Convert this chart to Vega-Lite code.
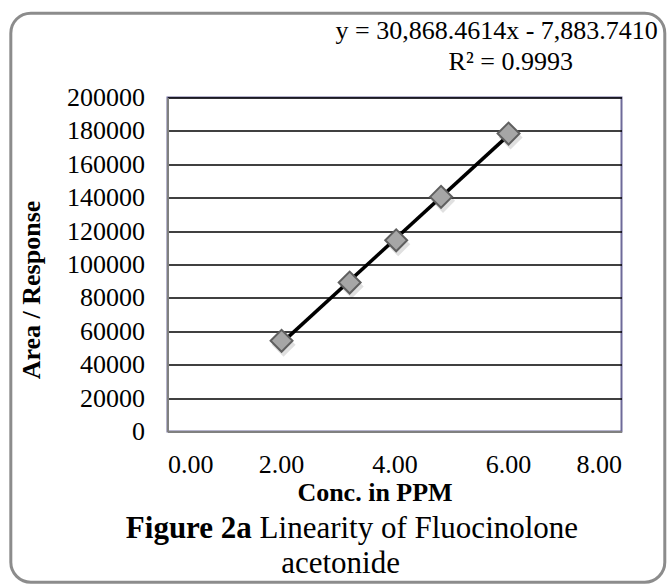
{
  "$schema": "https://vega.github.io/schema/vega-lite/v6.json",
  "width": 454,
  "height": 334,
  "padding": {"left": 8.5, "top": 11.5, "right": 0, "bottom": 0},
  "background": "white",
  "config": {
    "font": "Liberation Serif",
    "view": {"stroke": "#6e6a99", "strokeWidth": 2},
    "axisX": {"labelFontSize": 26, "labelColor": "black", "labelFont": "Liberation Serif", "titleFontSize": 26, "titleFontWeight": "bold", "titleColor": "black", "titleFont": "Liberation Serif", "grid": false, "ticks": false, "tickSize": 0, "domainColor": "#808080", "domainWidth": 2, "labelPadding": 20, "zindex": 1, "labelOverlap": false},
    "axisY": {"labelFontSize": 26, "labelColor": "black", "labelFont": "Liberation Serif", "titleFontSize": 26, "titleFontWeight": "bold", "titleColor": "black", "titleFont": "Liberation Serif", "grid": true, "gridColor": "black", "gridWidth": 1.5, "gridOpacity": 1, "ticks": false, "tickSize": 0, "domainColor": "#808080", "domainWidth": 2, "labelPadding": 23, "labelOverlap": false}
  },
  "datasets": {
    "points": [
      {"conc": 2.01, "area": 54300},
      {"conc": 3.21, "area": 89200},
      {"conc": 4.03, "area": 114500},
      {"conc": 4.82, "area": 140500},
      {"conc": 6.01, "area": 178400}
    ],
    "single": [{"label": "annotation"}]
  },
  "data": {"name": "points"},
  "layer": [
    {
      "data": {"name": "single"},
      "mark": {"type": "rect", "fill": "transparent", "stroke": "#8c8c8c", "strokeWidth": 3, "cornerRadius": 20},
      "encoding": {
        "x": {"datum": -2.761, "type": "quantitative", "scale": {"domain": [0, 8], "nice": false, "zero": false}, "title": "Conc. in PPM"},
        "x2": {"datum": 8.763},
        "y": {"datum": 250479, "type": "quantitative", "scale": {"domain": [0, 200000], "nice": false, "zero": false}, "title": "Area / Response"},
        "y2": {"datum": -90240}
      }
    },
    {
      "transform": [{"regression": "area", "on": "conc"}],
      "mark": {"type": "line", "color": "black", "strokeWidth": 3.5},
      "encoding": {
        "x": {"field": "conc", "type": "quantitative", "scale": {"domain": [0, 8], "nice": false, "zero": false}, "title": "Conc. in PPM"},
        "y": {"field": "area", "type": "quantitative", "scale": {"domain": [0, 200000], "nice": false, "zero": false}, "title": "Area / Response"}
      }
    },
    {
      "mark": {"type": "point", "shape": "diamond", "filled": true, "size": 580, "color": "black", "opacity": 0.12, "xOffset": 2, "yOffset": 4},
      "encoding": {
        "x": {"field": "conc", "type": "quantitative", "scale": {"domain": [0, 8], "nice": false, "zero": false}, "title": "Conc. in PPM"},
        "y": {"field": "area", "type": "quantitative", "scale": {"domain": [0, 200000], "nice": false, "zero": false}, "title": "Area / Response"}
      }
    },
    {
      "mark": {"type": "point", "shape": "diamond", "filled": true, "size": 480, "fill": "#a6a6a6", "stroke": "#5f5f5f", "strokeWidth": 2, "opacity": 1},
      "encoding": {
        "x": {"field": "conc", "type": "quantitative", "scale": {"domain": [0, 8], "nice": false, "zero": false}, "title": "Conc. in PPM",
          "axis": {"values": [0, 2, 4, 6, 8], "tickCount": 12, "format": ".2f", "titleX": 207, "titleY": 48, "titleBaseline": "top"}},
        "y": {"field": "area", "type": "quantitative", "scale": {"domain": [0, 200000], "nice": false, "zero": false}, "title": "Area / Response",
          "axis": {"values": [0, 20000, 40000, 60000, 80000, 100000, 120000, 140000, 160000, 180000, 200000], "tickCount": 12, "format": "d", "titlePadding": 22, "titleY": 192}}
      }
    },
    {
      "data": {"name": "single"},
      "mark": {"type": "text", "text": "y = 30,868.4614x - 7,883.7410", "align": "right", "baseline": "alphabetic", "fontSize": 26, "fontWeight": "normal", "color": "black"},
      "encoding": {
        "x": {"datum": 8.64, "type": "quantitative", "scale": {"domain": [0, 8], "nice": false, "zero": false}, "title": "Conc. in PPM"},
        "y": {"datum": 235329, "type": "quantitative", "scale": {"domain": [0, 200000], "nice": false, "zero": false}, "title": "Area / Response"}
      }
    },
    {
      "data": {"name": "single"},
      "mark": {"type": "text", "text": "R² = 0.9993", "align": "center", "baseline": "alphabetic", "fontSize": 26, "fontWeight": "normal", "color": "black"},
      "encoding": {
        "x": {"datum": 6.049, "type": "quantitative", "scale": {"domain": [0, 8], "nice": false, "zero": false}, "title": "Conc. in PPM"},
        "y": {"datum": 216347, "type": "quantitative", "scale": {"domain": [0, 200000], "nice": false, "zero": false}, "title": "Area / Response"}
      }
    },
    {
      "data": {"name": "single"},
      "mark": {"type": "text", "text": "Figure 2a", "align": "right", "baseline": "alphabetic", "fontSize": 31, "fontWeight": "bold", "color": "black"},
      "encoding": {
        "x": {"datum": 1.486, "type": "quantitative", "scale": {"domain": [0, 8], "nice": false, "zero": false}, "title": "Conc. in PPM"},
        "y": {"datum": -63892, "type": "quantitative", "scale": {"domain": [0, 200000], "nice": false, "zero": false}, "title": "Area / Response"}
      }
    },
    {
      "data": {"name": "single"},
      "mark": {"type": "text", "text": "Linearity of Fluocinolone", "align": "left", "baseline": "alphabetic", "fontSize": 31, "fontWeight": "normal", "dx": 7.75, "color": "black"},
      "encoding": {
        "x": {"datum": 1.486, "type": "quantitative", "scale": {"domain": [0, 8], "nice": false, "zero": false}, "title": "Conc. in PPM"},
        "y": {"datum": -63892, "type": "quantitative", "scale": {"domain": [0, 200000], "nice": false, "zero": false}, "title": "Area / Response"}
      }
    },
    {
      "data": {"name": "single"},
      "mark": {"type": "text", "text": "acetonide", "align": "center", "baseline": "alphabetic", "fontSize": 31, "fontWeight": "normal", "color": "black"},
      "encoding": {
        "x": {"datum": 3.05, "type": "quantitative", "scale": {"domain": [0, 8], "nice": false, "zero": false}, "title": "Conc. in PPM"},
        "y": {"datum": -84850, "type": "quantitative", "scale": {"domain": [0, 200000], "nice": false, "zero": false}, "title": "Area / Response"}
      }
    }
  ]
}
